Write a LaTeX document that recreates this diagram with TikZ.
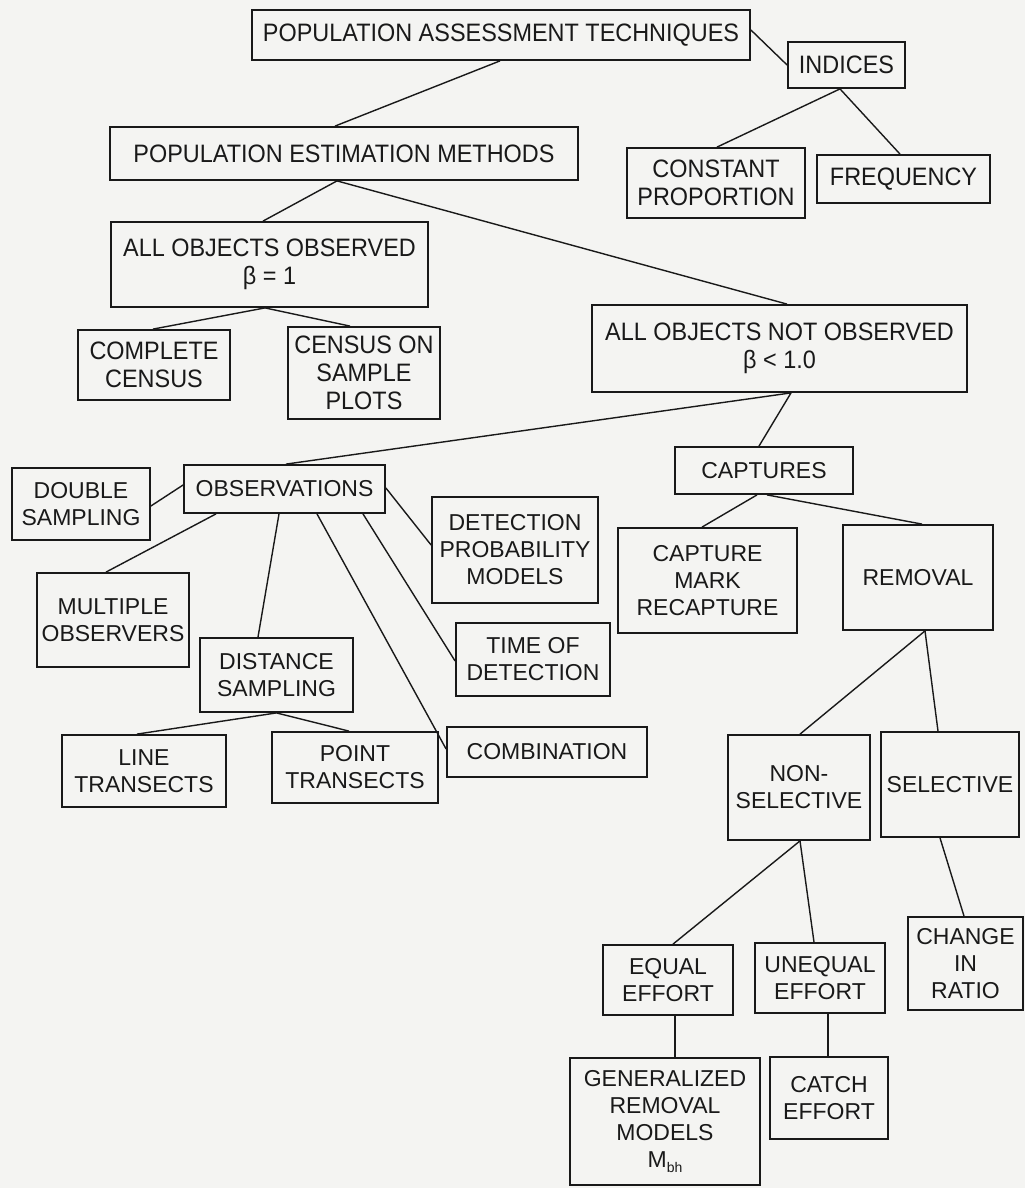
\documentclass[tikz,border=0pt]{standalone}
\usepackage{fontspec}
\setmainfont{Liberation Sans}
\newfontfamily\lowfamily{Liberation Sans}
\newfontfamily\topfamily[FakeStretch=0.93]{Liberation Sans}
\newcommand\lowfont{\lowfamily\fontsize{23}{27}\selectfont}
\newcommand\topfont{\topfamily\fontsize{25.2}{28}\selectfont}
\definecolor{paper}{RGB}{244,244,242}
\definecolor{ink}{RGB}{25,25,25}
\tikzset{
  box/.style={draw=ink, line width=1.8pt, inner sep=0pt, align=center, text=ink, font=\lowfont},
  topbox/.style={box, font=\topfont},
  link/.style={draw=ink, line width=1.4pt}
}
\begin{document}
\begin{tikzpicture}[x=1pt,y=-1pt]
\fill[paper] (0,0) rectangle (1025,1188);
\useasboundingbox (0,0) rectangle (1025,1188);
% top part
\node[topbox, minimum width=498pt, minimum height=50pt] (pat) at (501,35) {POPULATION ASSESSMENT TECHNIQUES};
\node[topbox, minimum width=117pt, minimum height=46pt] (ind) at (846.5,65) {INDICES};
\node[topbox, minimum width=468pt, minimum height=53pt] (pem) at (344,153.5) {POPULATION ESTIMATION METHODS};
\node[topbox, minimum width=178pt, minimum height=70pt] (cp) at (716,183) {CONSTANT\\PROPORTION};
\node[topbox, minimum width=173pt, minimum height=48pt] (freq) at (903.5,179) {FREQUENCY};
\node[topbox, minimum width=317pt, minimum height=85pt] (aoo) at (269.5,264.5) {ALL OBJECTS OBSERVED\\β = 1};
\node[topbox, minimum width=152pt, minimum height=70pt] (cc) at (154,365) {COMPLETE\\CENSUS};
\node[topbox, minimum width=152pt, minimum height=92pt] (csp) at (364,373) {CENSUS ON\\SAMPLE\\PLOTS};
\node[topbox, minimum width=375pt, minimum height=87pt] (aono) at (779.5,348.5) {ALL OBJECTS NOT OBSERVED\\β < 1.0};
% observations branch
\node[box, minimum width=138pt, minimum height=72pt] (ds) at (81,504) {DOUBLE\\SAMPLING};
\node[box, minimum width=201pt, minimum height=48pt] (obs) at (284.5,489) {OBSERVATIONS};
\node[box, minimum width=166pt, minimum height=106pt] (dpm) at (515,550) {DETECTION\\PROBABILITY\\MODELS};
\node[box, minimum width=152pt, minimum height=94pt] (mo) at (113,620) {MULTIPLE\\OBSERVERS};
\node[box, minimum width=154pt, minimum height=73pt] (tod) at (533,659.5) {TIME OF\\DETECTION};
\node[box, minimum width=153pt, minimum height=74pt] (dist) at (276.5,675) {DISTANCE\\SAMPLING};
\node[box, minimum width=200pt, minimum height=50pt] (comb) at (547,752) {COMBINATION};
\node[box, minimum width=164pt, minimum height=72pt] (lt) at (144,771) {LINE\\TRANSECTS};
\node[box, minimum width=166pt, minimum height=71pt] (pt) at (355,767.5) {POINT\\TRANSECTS};
% captures branch
\node[box, minimum width=178pt, minimum height=47pt] (capt) at (764,470.5) {CAPTURES};
\node[box, minimum width=179pt, minimum height=105pt] (cmr) at (707.5,580.5) {CAPTURE\\MARK\\RECAPTURE};
\node[box, minimum width=150pt, minimum height=105pt] (rem) at (918,577.5) {REMOVAL};
\node[box, minimum width=142pt, minimum height=105pt] (ns) at (799,787.5) {NON-\\SELECTIVE};
\node[box, minimum width=138pt, minimum height=105pt] (sel) at (950,784.5) {SELECTIVE};
\node[box, minimum width=130pt, minimum height=70pt] (eq) at (668,980) {EQUAL\\EFFORT};
\node[box, minimum width=130pt, minimum height=70pt] (uneq) at (820,978) {UNEQUAL\\EFFORT};
\node[box, minimum width=115pt, minimum height=93pt] (cir) at (965.5,963.5) {CHANGE\\IN\\RATIO};
\node[box, minimum width=190pt, minimum height=127pt] (grm) at (665,1121.5) {GENERALIZED\\REMOVAL\\MODELS\\M\raisebox{-0.35ex}{\fontsize{14}{14}\selectfont bh}};
\node[box, minimum width=118pt, minimum height=82pt] (catch) at (829,1098) {CATCH\\EFFORT};
% connectors
\draw[link] ([xshift=-1pt]pat.south) -- ([xshift=-9pt]pem.north);
\draw[link] ([yshift=5pt]pat.east) -- (ind.west);
\draw[link] ([xshift=-6.5pt]ind.south) -- ([xshift=1pt]cp.north);
\draw[link] ([xshift=-6.5pt]ind.south) -- ([xshift=-3.5pt]freq.north);
\draw[link] ([xshift=-7pt]pem.south) -- ([xshift=-6.5pt]aoo.north);
\draw[link] ([xshift=-7pt]pem.south) -- ([xshift=7.5pt]aono.north);
\draw[link] ([xshift=-4.5pt]aoo.south) -- ([xshift=-1pt]cc.north);
\draw[link] ([xshift=-4.5pt]aoo.south) -- ([xshift=-14pt]csp.north);
\draw[link] ([xshift=11.5pt]aono.south) -- ([xshift=1.5pt]obs.north);
\draw[link] ([xshift=11.5pt]aono.south) -- ([xshift=-5pt]capt.north);
\draw[link] ([yshift=-2pt]ds.east) -- ([yshift=4pt]obs.west);
\draw[link] ([xshift=-68.5pt]obs.south) -- ([xshift=-7pt]mo.north);
\draw[link] ([xshift=-5.5pt]obs.south) -- ([xshift=-18.5pt]dist.north);
\draw[link] ([xshift=32.5pt]obs.south) -- ([yshift=3pt]comb.west);
\draw[link] ([xshift=78.5pt]obs.south) -- ([yshift=-1.5pt]tod.west);
\draw[link] ([yshift=1pt]obs.east) -- ([yshift=5pt]dpm.west);
\draw[link] (dist.south) -- ([xshift=-7pt]lt.north);
\draw[link] (dist.south) -- ([xshift=-6pt]pt.north);
\draw[link] ([xshift=-7pt]capt.south) -- ([xshift=-5.5pt]cmr.north);
\draw[link] ([xshift=3pt]capt.south) -- ([xshift=4pt]rem.north);
\draw[link] ([xshift=7pt]rem.south) -- ([xshift=1pt]ns.north);
\draw[link] ([xshift=7pt]rem.south) -- ([xshift=-12pt]sel.north);
\draw[link] ([xshift=1pt]ns.south) -- ([xshift=5pt]eq.north);
\draw[link] ([xshift=1pt]ns.south) -- ([xshift=-6pt]uneq.north);
\draw[link] ([xshift=-10pt]sel.south) -- ([xshift=-1.5pt]cir.north);
\draw[link] ([xshift=7pt]eq.south) -- ([xshift=10pt]grm.north);
\draw[link] ([xshift=8pt]uneq.south) -- ([xshift=-1pt]catch.north);
\end{tikzpicture}
\end{document}
